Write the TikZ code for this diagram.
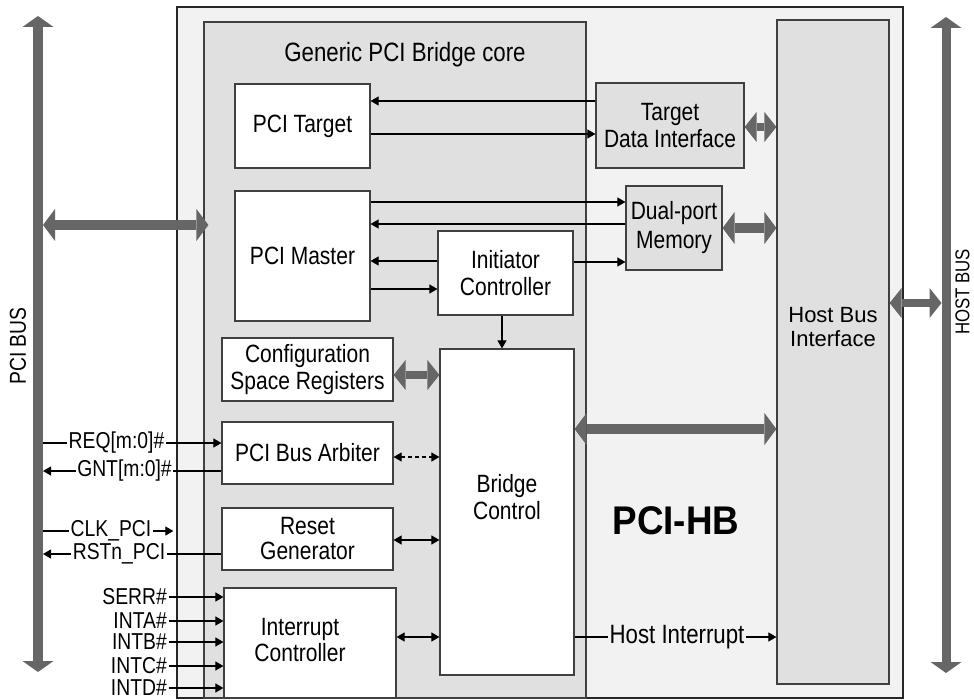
\documentclass[tikz,border=0pt]{standalone}
\usepackage{fontspec}
\setmainfont{Liberation Sans}[FakeStretch=0.84]
\newfontfamily\plainsans{Liberation Sans}
\newfontfamily\hbfont{Liberation Sans}[FakeStretch=0.92]
\usetikzlibrary{arrows.meta,calc}
\definecolor{outerfill}{HTML}{F2F2F2}
\definecolor{corefill}{HTML}{E0E0E0}
\definecolor{busgray}{HTML}{666666}
\definecolor{boxedge}{HTML}{404040}
\begin{document}
\begin{tikzpicture}[x=1pt,y=-1pt,
  blk/.style={draw=boxedge, line width=1.2pt, fill=white, inner sep=0pt, align=center, font=\fontsize{25}{27.5}\selectfont},
  gblk/.style={blk, fill=corefill},
  txt/.style={inner sep=0pt, align=center, font=\fontsize{25}{27.5}\selectfont},
  arr/.style={line width=1.1pt, draw=black, -{Triangle[length=8pt,width=9pt]}},
  barr/.style={line width=1.1pt, draw=black, {Triangle[length=8pt,width=9pt]}-{Triangle[length=8pt,width=9pt]}},
  ln/.style={line width=1.1pt, draw=black},
  fat/.style={draw=busgray, line width=10pt, {Triangle[length=12pt,width=32pt,line width=0pt]}-{Triangle[length=12pt,width=32pt,line width=0pt]}},
  fatsm/.style={draw=busgray, line width=8pt, {Triangle[length=12pt,width=30pt,line width=0pt]}-{Triangle[length=12pt,width=30pt,line width=0pt]}},
  sigl/.style={inner sep=1.5pt, font=\fontsize{23}{25}\selectfont},
]
\useasboundingbox (0,0) rectangle (974,700);
\fill[white] (0,0) rectangle (974,700);

% outer and core
\node[draw=black!85, line width=1.3pt, fill=outerfill, minimum width=726pt, minimum height=691pt, inner sep=0pt] (pcihb) at (540,352.5) {};
\node[draw=boxedge, line width=1.2pt, fill=corefill, minimum width=382pt, minimum height=676pt, inner sep=0pt] (core) at (395,360) {};
\node[font=\fontsize{26.5}{28}\selectfont] (coretitle) at (405,55) {Generic PCI Bridge core};

% host bus interface
\node[gblk, minimum width=112pt, minimum height=664pt] (hbi) at (833,352) {};
\node[inner sep=0pt, align=center, font=\plainsans\fontsize{22}{24}\selectfont] (hbitxt) at (833,327) {Host Bus\\Interface};

% blocks
\node[gblk, minimum width=148pt, minimum height=85pt] (tdi) at (670,125.5) {Target\\Data Interface};
\node[gblk, minimum width=96pt, minimum height=84pt, font=\fontsize{25}{29}\selectfont] (dpm) at (674,228) {Dual-port\\Memory};
\node[blk, minimum width=135pt, minimum height=84pt] (tgt) at (302.5,126) {PCI Target};
\node[blk, minimum width=135pt, minimum height=130pt] (mst) at (302.5,256) {PCI Master};
\node[blk, minimum width=135pt, minimum height=84pt] (ini) at (505.5,273) {Initiator\\Controller};
\node[blk, minimum width=134pt, minimum height=326pt] (bc) at (507,512) {};
\node[txt] (bctxt) at (507,497) {Bridge\\Control};
\node[blk, minimum width=171pt, minimum height=63pt] (csr) at (307.5,369.5) {Configuration\\Space Registers};
\node[blk, minimum width=171pt, minimum height=62pt] (arb) at (307.5,453) {PCI Bus Arbiter};
\node[blk, minimum width=171pt, minimum height=62pt, font=\fontsize{25}{25}\selectfont] (rst) at (307.5,539) {Reset\\Generator};
\node[blk, minimum width=172pt, minimum height=110pt] (intc) at (310,643) {};
\node[txt, font=\fontsize{25}{26.5}\selectfont] (intctxt) at (300,640) {Interrupt\\Controller};

\node[font=\hbfont\bfseries\fontsize{40}{44}\selectfont, inner sep=0pt] (hblbl) at (676,521) {PCI-HB};

% internal connectors
\coordinate (a1) at ($(tdi.west)+(0,-24.5)$);
\draw[arr] (a1) -- (a1 -| tgt.east);
\coordinate (a2) at ($(tgt.east)+(0,8)$);
\draw[arr] (a2) -- (a2 -| tdi.west);
\coordinate (a3) at ($(mst.east)+(0,-54)$);
\draw[arr] (a3) -- (a3 -| dpm.west);
\coordinate (a4) at ($(dpm.west)+(0,-4)$);
\draw[arr] (a4) -- (a4 -| mst.east);
\coordinate (a5) at ($(ini.west)+(0,-12)$);
\draw[arr] (a5) -- (a5 -| mst.east);
\coordinate (a6) at ($(mst.east)+(0,33)$);
\draw[arr] (a6) -- (a6 -| ini.west);
\coordinate (a7) at ($(ini.east)+(0,-11)$);
\draw[arr] (a7) -- (a7 -| dpm.west);
\coordinate (a8) at ($(ini.south)+(-3.5,0)$);
\draw[arr] (a8) -- (a8 |- bc.north);
\coordinate (a9) at ($(csr.east)+(0,5.5)$);
\draw[fatsm] (a9) -- (a9 -| bc.west);
\coordinate (a10) at ($(arb.east)+(0,4)$);
\draw[barr, dash pattern=on 4pt off 3pt] (a10) -- (a10 -| bc.west);
\coordinate (a11) at ($(rst.east)+(0,1)$);
\draw[barr] (a11) -- (a11 -| bc.west);
\coordinate (a12) at ($(intc.east)+(0,-6)$);
\draw[barr] (a12) -- (a12 -| bc.west);
\coordinate (a13) at ($(bc.east)+(0,-83)$);
\draw[fat] (a13) -- (a13 -| hbi.west);
\coordinate (a14) at ($(tdi.east)+(0,1.5)$);
\draw[fatsm] (a14) -- (a14 -| hbi.west);
\draw[fat] (dpm.east) -- (dpm.east -| hbi.west);

% host interrupt
\coordinate (a17) at ($(bc.east)+(0,125)$);
\node[inner sep=1.5pt, font=\fontsize{26.5}{28}\selectfont] (hint) at (677,637) {Host Interrupt};
\draw[ln] (a17) -- (hint.west);
\draw[arr] (hint.east) -- (hint.east -| hbi.west);

% buses
\coordinate (pcitop) at (38,16);
\coordinate (pcibot) at (38,672);
\draw[draw=busgray, line width=10pt, {Triangle[length=11pt,width=31pt,line width=0pt]}-{Triangle[length=11pt,width=31pt,line width=0pt]}] (pcitop) -- (pcibot);
\node[rotate=90, font=\fontsize{23}{25}\selectfont] (pcibuslbl) at (18,346) {PCI BUS};
\coordinate (hosttop) at (946,17);
\coordinate (hostbot) at (946,673);
\draw[draw=busgray, line width=9pt, {Triangle[length=11pt,width=31pt,line width=0pt]}-{Triangle[length=11pt,width=31pt,line width=0pt]}] (hosttop) -- (hostbot);
\node[rotate=90, inner sep=0pt, font=\fontsize{20}{22}\selectfont] (hostbuslbl) at (962.5,292) {HOST BUS};
\coordinate (hostbusL) at (941.5,352);
\coordinate (a16) at ($(hbi.east)+(0,-49)$);
\draw[fatsm] (a16) -- (a16 -| hostbusL);
\coordinate (pciL) at (43,225);
\coordinate (pciR) at ($(pciL -| core.west)+(5,0)$);
\draw[fat] (pciL) -- (pciR);

% left side signals
\node[sigl] (req) at (116.5,443) {REQ[m:0]\#};
\coordinate (reqb) at (43,443);
\draw[ln] (reqb) -- (req.west);
\draw[arr] (req.east) -- (req.east -| arb.west);

\node[sigl] (gnt) at (124.5,471) {GNT[m:0]\#};
\coordinate (gntb) at (43,471);
\coordinate (gnts) at ($(arb.west)+(0,18)$);
\draw[ln] (gnts) -- (gnt.east);
\draw[arr] (gnt.west) -- (gntb);

\node[sigl] (clk) at (111,531) {CLK\_PCI};
\coordinate (clkb) at (43,531);
\coordinate (clke) at ($(clk.east -| pcihb.west)+(-3,0)$);
\draw[ln] (clkb) -- (clk.west);
\draw[arr] (clk.east) -- (clke);

\node[sigl] (rstl) at (119,554) {RSTn\_PCI};
\coordinate (rstb) at (43,554);
\coordinate (rsts) at ($(rst.west)+(0,15)$);
\draw[ln] (rsts) -- (rstl.east);
\draw[arr] (rstl.west) -- (rstb);

\node[sigl, anchor=east] (serr) at (168.5,597) {SERR\#};
\draw[arr] (serr.east) -- (serr.east -| intc.west);
\node[sigl, anchor=east] (inta) at (168.5,621) {INTA\#};
\draw[arr] (inta.east) -- (inta.east -| intc.west);
\node[sigl, anchor=east] (intb) at (168.5,642) {INTB\#};
\draw[arr] (intb.east) -- (intb.east -| intc.west);
\node[sigl, anchor=east] (intcl) at (168.5,666) {INTC\#};
\draw[arr] (intcl.east) -- (intcl.east -| intc.west);
\node[sigl, anchor=east] (intd) at (168.5,688) {INTD\#};
\draw[arr] (intd.east) -- (intd.east -| intc.west);
\end{tikzpicture}
\end{document}
